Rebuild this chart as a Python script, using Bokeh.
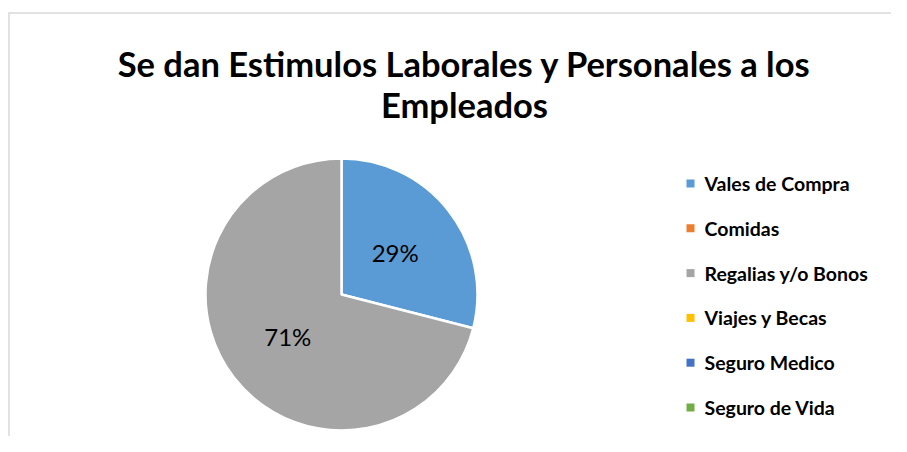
import math
from bokeh.plotting import figure
from bokeh.models import ColumnDataSource, Range1d
from bokeh.core.properties import value
from bokeh.embed import file_html
from bokeh.resources import INLINE

title_lines = ["Se dan Estimulos Laborales y Personales a los", "Empleados"]
categories = ["Vales de Compra", "Comidas", "Regalias y/o Bonos",
              "Viajes y Becas", "Seguro Medico", "Seguro de Vida"]
percentages = [29, 0, 71, 0, 0, 0]
colors = ["#5B9BD5", "#ED7D31", "#A5A5A5", "#FFC000", "#4472C4", "#70AD47"]

W, H = 891, 436
p = figure(width=W, height=H, output_backend="svg", toolbar_location=None,
           x_range=Range1d(0, W), y_range=Range1d(-H, 0),
           min_border=0)
p.axis.visible = False
p.grid.visible = False
p.outline_line_color = None
p.background_fill_color = "white"

# frame (top and left edges visible)
p.line(x=[8, W], y=[-12.5, -12.5], line_color="#D9D9D9", line_width=1.5)
p.line(x=[8.5, 8.5], y=[-12, -H], line_color="#D9D9D9", line_width=1.5)

# title
p.text(x=[464, 464], y=[-63, -104], text=title_lines,
       text_font=value("Lato"), text_font_style="bold", text_font_size="34.5px",
       text_align="center", text_baseline="middle", text_color="black")

# pie
cx, cy, r = 341, -294, 136
total = sum(percentages)
starts, ends, cols, labs, lx, ly = [], [], [], [], [], []
cum = 0.0
for cat, v, c in zip(categories, percentages, colors):
    if v <= 0:
        continue
    a0 = math.pi / 2 - 2 * math.pi * cum / total
    cum += v
    a1 = math.pi / 2 - 2 * math.pi * cum / total
    starts.append(a0)
    ends.append(a1)
    cols.append(c)
    mid = (a0 + a1) / 2
    labs.append(f"{round(100 * v / total)}%")
    lx.append(cx + 0.5 * r * math.cos(mid))
    ly.append(cy + 0.5 * r * math.sin(mid))

src = ColumnDataSource(dict(start=starts, end=ends, color=cols))
p.wedge(x=cx, y=cy, radius=r, start_angle="start", end_angle="end",
        direction="clock", fill_color="color", line_color="white",
        line_width=2.5, source=src)
p.text(x=lx, y=ly, text=labs, text_font=value("Lato"), text_font_size="24px",
       text_align="center", text_baseline="middle", text_color="black")

# legend
n = len(categories)
leg_y = [-(183 + 44.8 * i) for i in range(n)]
leg = ColumnDataSource(dict(x=[690] * n, tx=[704] * n, y=leg_y,
                            color=colors, label=categories))
p.scatter(x="x", y="y", marker="square", size=8, fill_color="color",
          line_color=None, source=leg)
p.text(x="tx", y="y", text="label", text_font=value("Lato"),
       text_font_style="bold", text_font_size="19.5px", text_align="left",
       text_baseline="middle", text_color="black", source=leg)

open("out.html", "w").write(file_html(p, INLINE))
